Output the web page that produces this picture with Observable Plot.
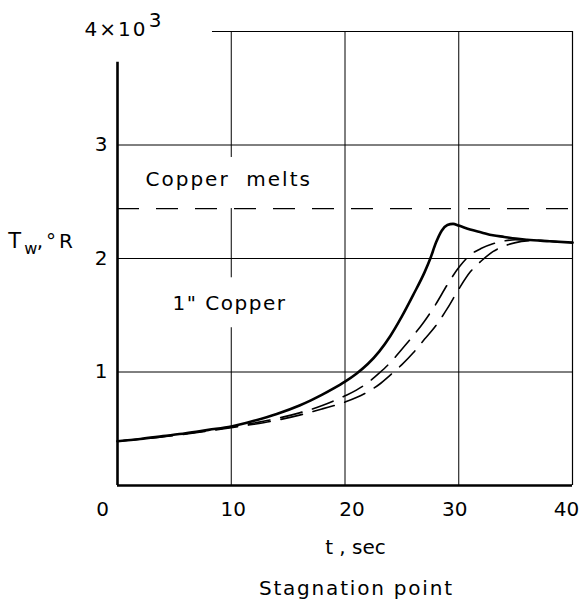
<!DOCTYPE html>
<html>
<head>
<meta charset="utf-8">
<script src="https://cdn.jsdelivr.net/npm/d3@7"></script>
<script src="https://cdn.jsdelivr.net/npm/@observablehq/plot@0.6"></script>
<style>
  html, body { margin: 0; padding: 0; background: #fff; }
  #chart { width: 587px; height: 607px; }
</style>
</head>
<body>
<div id="chart"></div>
<script>
// Wall temperature T_w (×10^3 °R) versus time t (sec), stagnation point
const timeSolid = [0, 2, 4, 6, 8, 10, 12, 14, 16, 17, 18, 19, 20, 21, 22, 23, 24, 25, 26, 27, 27.5, 28, 28.5, 29, 29.5, 30, 31, 32, 33, 34, 35, 36, 38, 40];
const tempSolid = [0.39, 0.41, 0.435, 0.46, 0.49, 0.52, 0.57, 0.63, 0.705, 0.75, 0.80, 0.855, 0.915, 0.985, 1.07, 1.18, 1.32, 1.49, 1.68, 1.88, 2.0, 2.14, 2.245, 2.295, 2.305, 2.29, 2.255, 2.23, 2.205, 2.19, 2.175, 2.165, 2.152, 2.14];

const timeDashA = [0, 5, 10, 12, 14, 16, 18, 20, 21, 22, 23, 24, 25, 26, 27, 28, 29, 30, 31, 32, 33, 34, 35, 36, 38, 40];
const tempDashA = [0.39, 0.445, 0.515, 0.55, 0.59, 0.64, 0.705, 0.79, 0.84, 0.905, 0.99, 1.085, 1.2, 1.32, 1.45, 1.6, 1.77, 1.92, 2.03, 2.09, 2.13, 2.155, 2.165, 2.165, 2.152, 2.14];

const timeDashB = [0, 5, 10, 12, 14, 16, 18, 20, 21, 22, 23, 24, 25, 26, 27, 28, 29, 30, 31, 32, 33, 34, 35, 36, 37, 38, 40];
const tempDashB = [0.39, 0.44, 0.51, 0.54, 0.575, 0.62, 0.675, 0.735, 0.775, 0.825, 0.89, 0.975, 1.065, 1.17, 1.29, 1.41, 1.56, 1.73, 1.88, 1.98, 2.06, 2.11, 2.14, 2.155, 2.158, 2.152, 2.14];

const copperMelts = 2.44;           // ×10^3 °R
const xTicks = [0, 10, 20, 30, 40];
const xGrid = [20, 30];
const yTicks = [1, 2, 3];
const yGrid = [1, 2, 3];

const toPts = (ts, vs) => ts.map((t, i) => ({t, T: vs[i]}));
const solid = toPts(timeSolid, tempSolid);
const dashA = toPts(timeDashA, tempDashA);
const dashB = toPts(timeDashB, tempDashB);

const FONT = "DejaVu Sans";
const tickShift = {0: -15, 10: 2, 20: 7, 30: -4, 40: -6};

const chart = Plot.plot({
  width: 587,
  height: 607,
  marginLeft: 117,
  marginRight: 15,
  marginTop: 31,
  marginBottom: 122,
  style: {fontFamily: FONT, background: "white", color: "black", overflow: "visible"},
  x: {domain: [0, 40], axis: null},
  y: {domain: [0, 4], axis: null},
  marks: [
    // grid
    Plot.ruleY(yGrid, {x1: 0, x2: 40, stroke: "black", strokeWidth: 1}),
    Plot.ruleX(xGrid, {y1: 0, y2: 4, stroke: "black", strokeWidth: 1}),
    Plot.ruleX([{y1: 0, y2: 1.39}, {y1: 1.83, y2: 2.44}, {y1: 2.89, y2: 4}], {x: 10, y1: "y1", y2: "y2", stroke: "black", strokeWidth: 1}),
    Plot.ruleX([40], {y1: 0, y2: 4, stroke: "black", strokeWidth: 1.2}),
    Plot.ruleY([4], {x1: 8.35, x2: 40, stroke: "black", strokeWidth: 1.2}),
    // axes
    Plot.ruleX([0], {y1: 0, y2: 3.73, stroke: "black", strokeWidth: 2.6}),
    Plot.ruleY([0], {x1: 0, x2: 40, stroke: "black", strokeWidth: 2.6}),
    // copper melts line
    Plot.ruleY([copperMelts], {x1: 0, x2: 40, stroke: "black", strokeWidth: 1.2, strokeDasharray: "22,17"}),
    // curves
    Plot.line(dashB, {x: "t", y: "T", stroke: "black", strokeWidth: 1.6, strokeDasharray: "22,11", curve: "monotone-x"}),
    Plot.line(dashA, {x: "t", y: "T", stroke: "black", strokeWidth: 1.6, strokeDasharray: "22,11", curve: "monotone-x"}),
    Plot.line(solid, {x: "t", y: "T", stroke: "black", strokeWidth: 2.6, curve: "monotone-x"}),
    // y tick labels
    Plot.text(yTicks, {x: 0, y: d => d, text: d => String(d), dx: -10, textAnchor: "end", lineAnchor: "middle", fontSize: 20, fill: "black"}),
    Plot.text(["4×10"], {x: 2.64, y: 4.02, text: d => d, textAnchor: "end", lineAnchor: "middle", fontSize: 20, fill: "black"}),
    Plot.text(["3"], {x: 2.75, y: 4.10, text: d => d, textAnchor: "start", lineAnchor: "middle", fontSize: 20, fill: "black"}),
    // x tick labels
    ...xTicks.map(v => Plot.text([v], {x: d => d, y: 0, text: d => String(d), dx: tickShift[v], dy: 24, textAnchor: "middle", lineAnchor: "middle", fontSize: 20, fill: "black"})),
    // axis titles
    Plot.text(["t , sec"], {x: 20.92, y: -0.546, text: d => d, textAnchor: "middle", lineAnchor: "middle", fontSize: 20, fill: "black"}),
    Plot.text(["Stagnation point"], {x: 21.0, y: -0.907, text: d => d, textAnchor: "middle", lineAnchor: "middle", fontSize: 20, fill: "black"}),
    Plot.text(["T"], {x: -9.6, y: 2.15, text: d => d, textAnchor: "start", lineAnchor: "middle", fontSize: 21, fill: "black"}),
    Plot.text(["w"], {x: -8.2, y: 2.084, text: d => d, textAnchor: "start", lineAnchor: "middle", fontSize: 16, fill: "black"}),
    Plot.text([",°R"], {x: -7.1, y: 2.15, text: d => d, textAnchor: "start", lineAnchor: "middle", fontSize: 20, fill: "black"}),
    // annotations
    Plot.text(["Copper  melts"], {x: 2.46, y: 2.696, text: d => d, textAnchor: "start", lineAnchor: "middle", fontSize: 20, fill: "black"}),
    Plot.text(["1\" Copper"], {x: 4.84, y: 1.60, text: d => d, textAnchor: "start", lineAnchor: "middle", fontSize: 20, fill: "black"})
  ]
});

const spacing = {
  "Copper  melts": "2px",
  "1\" Copper": "1.5px",
  "Stagnation point": "1.8px",
  "4×10": "2px",
  ",°R": "3px"
};
d3.select(chart).selectAll("text").each(function() {
  const s = spacing[this.textContent];
  if (s) this.style.letterSpacing = s;
});
document.getElementById("chart").appendChild(chart);
</script>
</body>
</html>
